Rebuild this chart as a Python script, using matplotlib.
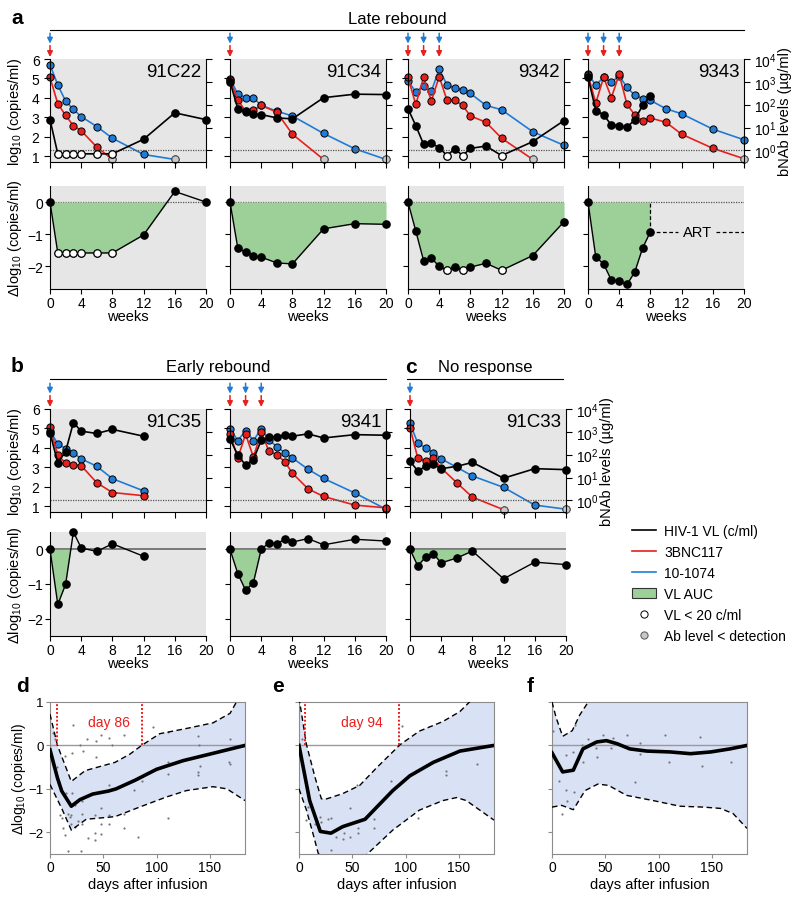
import numpy as np
import matplotlib
matplotlib.use("Agg")
import matplotlib.pyplot as plt
from matplotlib.lines import Line2D
from matplotlib.patches import Patch
from matplotlib.ticker import NullLocator

plt.rcParams['font.family'] = ['Liberation Sans', 'DejaVu Sans']
plt.rcParams['mathtext.fontset'] = 'custom'
plt.rcParams['mathtext.rm'] = 'Liberation Sans'
plt.rcParams['mathtext.it'] = 'Liberation Sans:italic'
plt.rcParams['mathtext.default'] = 'regular'
plt.rcParams['xtick.labelsize'] = 10
plt.rcParams['ytick.labelsize'] = 10

RED = '#e8201c'
BLUE = '#1f7bd6'
GREEN = '#9dcf99'
BG = '#e6e6e6'
GRAYDOT = '#c8c8c8'

# ---------------- data (weeks, log10 VL, bNAb ug/ml, delta log10) ----------------
# 91C22
wk_91C22 = [0, 1, 2, 3, 4, 6, 8, 12, 16, 20]
vl_91C22 = [2.88, 1.12, 1.12, 1.12, 1.12, 1.12, 1.12, 1.87, 3.23, 2.88]
low_91C22 = [1, 2, 3, 4, 6, 8]
rwk_91C22 = [0, 1, 2, 3, 4, 6, 8]
red_91C22 = [1550, 110, 34, 12, 7.2, 1.4, 0.4]
bwk_91C22 = [0, 1, 2, 3, 4, 6, 8, 12, 16]
blue_91C22 = [5600, 720, 145, 62, 30, 11, 3.4, 0.66, 0.4]
dvl_91C22 = [0, -1.58, -1.58, -1.58, -1.58, -1.58, -1.58, -1.02, 0.33, 0]

# 91C34
wk_91C34 = [0, 1, 2, 3, 4, 6, 8, 12, 16, 20]
vl_91C34 = [4.83, 3.44, 3.30, 3.18, 3.14, 2.97, 2.92, 4.01, 4.19, 4.17]
rwk_91C34 = [0, 1, 2, 3, 4, 6, 8, 12]
red_91C34 = [1200, 166, 50, 56, 93, 47, 5.1, 0.4]
bwk_91C34 = [0, 1, 2, 3, 4, 6, 8, 12, 16, 20]
blue_91C34 = [1350, 290, 204, 200, 93, 52, 32, 5.5, 1.17, 0.4]
dvl_91C34 = [0, -1.43, -1.56, -1.68, -1.71, -1.89, -1.92, -0.83, -0.67, -0.69]

# 9342
wk_9342 = [0, 1, 2, 3, 4, 5, 6, 7, 8, 10, 12, 16, 20]
vl_9342 = [3.44, 2.57, 1.61, 1.66, 1.44, 1.03, 1.38, 1.03, 1.40, 1.52, 1.03, 1.75, 2.83]
low_9342 = [5, 7, 12]
rwk_9342 = [0, 1, 2, 3, 4, 5, 6, 7, 8, 10, 12, 16]
red_9342 = [1550, 102, 1580, 145, 1700, 155, 155, 93, 32, 17, 3.4, 0.4]
bwk_9342 = [0, 1, 2, 3, 4, 5, 6, 7, 8, 10, 12, 16, 20]
blue_9342 = [1100, 363, 676, 389, 3630, 724, 550, 436, 309, 93, 60, 6.5, 1.66]
dvl_9342 = [0, -0.90, -1.82, -1.74, -2.0, -2.12, -2.02, -2.12, -2.02, -1.90, -2.12, -1.66, -0.61]

# 9343
wk_9343 = [0, 1, 2, 3, 4, 5, 6, 7, 8]
vl_9343 = [5.06, 3.35, 3.13, 2.60, 2.57, 2.48, 2.88, 3.61, 4.10]
rwk_9343 = [0, 1, 2, 3, 4, 5, 6, 7, 8, 10, 12, 16, 20]
red_9343 = [2000, 117, 1580, 204, 2140, 102, 36, 20, 26, 17, 5.1, 1.23, 0.43]
bwk_9343 = [0, 1, 2, 3, 4, 5, 6, 7, 8, 10, 12, 16, 20]
blue_9343 = [2140, 724, 1580, 955, 1820, 575, 257, 186, 155, 66, 40, 8.5, 2.9]
dvl_9343 = [0, -1.71, -1.92, -2.43, -2.46, -2.56, -2.17, -1.43, -0.92]

# 91C35
wk_91C35 = [0, 1, 2, 3, 4, 6, 8, 12]
vl_91C35 = [4.77, 3.23, 3.81, 5.30, 4.86, 4.74, 4.95, 4.60]
red_91C35 = [1660, 93, 44, 36, 33, 5.9, 2.2, 1.6]
blue_91C35 = [1120, 295, 186, 120, 66, 31, 8.9, 2.6]
dvl_91C35 = [0, -1.59, -1.01, 0.50, 0.04, -0.06, 0.16, -0.20]

# 9341
wk_9341 = [0, 1, 2, 3, 4, 5, 6, 7, 8, 10, 12, 16, 20]
vl_9341 = [4.46, 3.63, 3.11, 3.40, 4.39, 4.56, 4.54, 4.68, 4.60, 4.72, 4.51, 4.68, 4.65]
red_9341 = [830, 71, 794, 78, 977, 141, 100, 50, 15.5, 3.2, 1.48, 0.62, 0.47]
blue_9341 = [1350, 417, 1120, 417, 1350, 447, 224, 123, 72, 23, 9.1, 2.1, 0.41]
dvl_9341 = [0, -0.70, -1.18, -0.96, 0, 0.19, 0.16, 0.29, 0.21, 0.31, 0.13, 0.29, 0.24]

# 91C33
wk_91C33 = [0, 1, 2, 3, 4, 6, 8, 12, 16, 20]
vl_91C33 = [3.32, 2.81, 3.05, 3.16, 2.93, 3.05, 3.25, 2.44, 2.93, 2.88]
rwk_91C33 = [0, 1, 2, 3, 4, 6, 8, 12]
red_91C33 = [1480, 71, 51, 71, 26, 5.9, 1.38, 0.39]
bwk_91C33 = [0, 1, 2, 3, 4, 6, 8, 12, 16, 20]
blue_91C33 = [2340, 316, 200, 123, 66, 28, 11.7, 3.7, 0.62, 0.41]
dvl_91C33 = [0, -0.48, -0.22, -0.13, -0.39, -0.25, -0.05, -0.85, -0.37, -0.44]

# model panels d, e, f (days after infusion, delta log10)
d_mean_x = [0, 7, 11, 20, 28, 40, 55, 62, 80, 100, 125, 150, 183]
d_mean_y = [-0.1, -0.75, -1.05, -1.4, -1.25, -1.12, -1.05, -1.0, -0.8, -0.55, -0.35, -0.2, 0]
d_up_x = [0, 7, 20, 33, 61, 75, 86, 103, 128, 153, 169, 175, 183]
d_up_y = [0.72, 0.0, -0.83, -0.58, -0.39, -0.2, 0, 0.27, 0.39, 0.52, 0.74, 1.0, 1.3]
d_lo_x = [0, 11, 20, 34, 61, 84, 109, 128, 153, 166, 183]
d_lo_y = [-0.9, -1.45, -1.95, -1.70, -1.64, -1.42, -1.19, -1.04, -0.95, -1.0, -1.27]
d_sx = [5, 3, 7, 8, 9, 11, 12.5, 14, 14, 15, 17, 17, 19, 20, 21, 22, 21, 20, 23, 23,
        26, 28, 29, 30, 30, 31, 30, 35, 36, 43, 43, 42, 42, 42, 48, 48, 48, 48, 55, 55,
        55, 55, 58, 69, 69, 69, 79, 83, 86, 97, 111, 111, 111, 111, 139, 140, 139, 139, 141, 169,
        168, 169]
d_sy = [0.14, 0.29, -0.5, -0.85, -1.6, -1.68, -1.9, -2.07, -0.24, -1.1, -1.57, -2.44, -1.64, -1.8, -0.17, 0.48, -1.09, -1.6, -1.38, -1.87,
        -1.73, 0.02, -2.44, -1.8, -1.57, -0.13, -1.27, 0.14, -2.14, -0.27, 0.1, -2.02, -2.17, -1.6, 0.23, -1.43, -2.05, -1.8, 0.16, -0.92,
        -1.6, -1.8, 0.02, 0.25, -1.59, -1.89, -1.02, -2.12, -0.81, 0.42, 0.31, -0.39, -0.66, -1.67, 0.21, 0, -0.61, -0.68, -0.48, 0.14,
        -0.39, -0.43]
d_cut = [7, 86]

e_mean_x = [0, 10, 20, 30, 41, 62, 73, 88, 104, 126, 151, 183]
e_mean_y = [0, -1.27, -1.98, -2.02, -1.87, -1.70, -1.42, -1.04, -0.70, -0.39, -0.13, 0]
e_up_x = [0, 7, 15, 21, 26, 41, 57, 73, 95, 113, 135, 151, 160, 183]
e_up_y = [1.1, 0.02, -0.73, -1.23, -1.23, -1.11, -0.92, -0.51, 0.02, 0.33, 0.55, 0.78, 1.0, 1.6]
e_lo_x = [0, 7, 13, 18, 30, 45, 65, 88, 113, 135, 148, 157, 183]
e_lo_y = [-1.0, -1.49, -2.02, -2.48, -2.9, -2.9, -2.48, -1.95, -1.49, -1.27, -1.2, -1.27, -1.72]
e_sx = [3, 7, 8, 15, 20, 21, 27, 30, 30, 35, 40, 41, 42, 48, 48, 54, 55, 55, 70, 70,
        86, 97, 112, 138, 138, 167]
e_sy = [0.14, -1.72, -1.42, -1.8, -1.64, -1.76, -1.7, -1.67, -2.4, -2.1, -1.87, -2.16, -2.02, -1.43, -2.1, -0.92, -1.91, -2.02, -1.7, -1.89,
        -0.81, 0.44, -1.67, -0.6, -0.67, -0.42]
e_cut = [6, 94]

f_mean_x = [0, 10, 20, 29, 42, 51, 61, 73, 89, 111, 130, 149, 167, 183]
f_mean_y = [-0.17, -0.61, -0.57, -0.08, 0.08, 0.11, 0.04, -0.08, -0.13, -0.15, -0.19, -0.15, -0.08, 0]
f_up_x = [0, 4, 10, 19, 26, 34, 45, 183]
f_up_y = [1.0, 0.63, 0.21, 0.34, 0.70, 1.0, 1.4, 1.5]
f_lo_x = [0, 9, 20, 31, 43, 53, 70, 95, 120, 142, 158, 170, 183]
f_lo_y = [-1.42, -1.38, -1.48, -1.04, -0.89, -0.92, -1.15, -1.27, -1.4, -1.42, -1.45, -1.57, -1.91]
f_sx = [1, 7, 9, 13, 13, 14, 20, 21, 22, 28, 29, 34, 41, 42, 48, 55, 57, 70, 78, 83,
        83, 106, 110, 139, 141, 168]
f_sy = [0.34, -0.81, -1.59, -0.23, -1.02, -1.27, -0.15, -1.08, 0.46, 0.02, -0.39, 0.14, -0.07, -0.27, 0.23, -0.07, 0.16, 0.25, -0.85, 0.06,
        -0.2, 0.23, -0.38, 0.2, -0.47, -0.39]

# ---------------- figure ----------------
FW, FH = 800, 903
fig = plt.figure(figsize=(FW / 100, FH / 100), dpi=100)


def add_ax(x, top, w, h):
    return fig.add_axes([x / FW, 1 - (top + h) / FH, w / FW, h / FH])


MS = 5.2


def nab_line(tw, wks, vals, color, nd=None):
    tw.plot(wks, vals, '-o', color=color, mfc=color, mec='k', ms=MS, mew=0.7, lw=1.2, clip_on=False)
    if nd is not None:
        i = list(wks).index(nd)
        tw.plot(wks[i], vals[i], 'o', mfc=GRAYDOT, mec='#555555', ms=MS, mew=0.7, clip_on=False)


def top_panel(x, top, name, wk, vl, low, rwk, red, rnd, bwk, blue, bnd, doses, show_left, show_right):
    ax = add_ax(x, top, 156, 103)
    tw = ax.twinx()
    ax.set_zorder(tw.get_zorder() + 1)
    ax.patch.set_visible(False)
    tw.patch.set_visible(True)
    tw.patch.set_facecolor(BG)
    for s in ['top', 'right']:
        ax.spines[s].set_visible(False)
    for s in ['top', 'left', 'bottom']:
        tw.spines[s].set_visible(False)

    ax.axhline(1.3, color='#555555', ls=(0, (1, 1)), lw=0.9, zorder=1)
    tw.set_yscale('log')
    tw.set_ylim(10 ** -0.51, 1e4)
    tw.set_yticks([1, 10, 100, 1000, 10000])
    tw.yaxis.set_minor_locator(NullLocator())
    nab_line(tw, bwk, blue, BLUE, bnd)
    nab_line(tw, rwk, red, RED, rnd)

    ax.plot(wk, vl, '-o', color='k', mfc='k', mec='k', ms=MS, lw=1.2, clip_on=False, zorder=3)
    for w in low:
        ax.plot(w, vl[wk.index(w)], 'o', mfc='white', mec='k', ms=MS, mew=0.7, clip_on=False, zorder=4)

    ax.set_xlim(0, 20)
    ax.set_ylim(0.7, 6)
    ax.set_xticks(range(0, 21, 4))
    ax.set_yticks(range(1, 7))
    ax.tick_params(labelbottom=False, labelleft=show_left, direction='out', length=4)
    tw.tick_params(labelright=show_right, direction='out', length=4)
    if show_left:
        ax.set_ylabel('log$_{10}$ (copies/ml)', fontsize=10.5)
        ax.yaxis.set_label_coords(-0.165, 0.5)
    if show_right:
        tw.set_ylabel('bNAb levels (µg/ml)', fontsize=10.5, rotation=90)
        tw.yaxis.set_label_coords(1.215, 0.5)
    ax.text(0.97, 0.96, name, transform=ax.transAxes, ha='right', va='top', fontsize=13.5)

    for w in doses:
        ax.annotate('', xy=(w, 1.02), xycoords=ax.get_xaxis_transform(), xytext=(w, 1.13),
                    arrowprops=dict(arrowstyle='-|>', color=RED, lw=1.1, mutation_scale=8,
                                    shrinkA=0, shrinkB=0), annotation_clip=False)
        ax.annotate('', xy=(w, 1.15), xycoords=ax.get_xaxis_transform(), xytext=(w, 1.25),
                    arrowprops=dict(arrowstyle='-|>', color=BLUE, lw=1.1, mutation_scale=8,
                                    shrinkA=0, shrinkB=0), annotation_clip=False)
    return ax


def delta_panel(x, top, h, wk, dvl, low, auc_end, show_left, dotted_zero, ylo):
    ax = add_ax(x, top, 156, h)
    ax.set_facecolor(BG)
    for s in ['top', 'right']:
        ax.spines[s].set_visible(False)
    if dotted_zero:
        ax.axhline(0, color='#555555', ls=(0, (1, 1)), lw=0.9, zorder=1)
    else:
        ax.axhline(0, color='#666666', lw=1.2, zorder=1)
    w = np.array(wk, dtype=float)
    d = np.array(dvl, dtype=float)
    ax.fill_between(w, d, 0, where=(d < 0) & (w <= auc_end), interpolate=True,
                    color=GREEN, lw=0, zorder=2)
    ax.plot(wk, dvl, '-o', color='k', mfc='k', ms=MS, lw=1.0, clip_on=False, zorder=3)
    for lw_ in low:
        ax.plot(lw_, dvl[wk.index(lw_)], 'o', mfc='white', mec='k', ms=MS, mew=0.7, clip_on=False, zorder=4)
    ax.set_xlim(0, 20)
    ax.set_ylim(ylo, 0.5)
    ax.set_xticks(range(0, 21, 4))
    ax.set_yticks([0, -1, -2])
    ax.tick_params(labelleft=show_left, direction='out', length=3.5, pad=1.5)
    ax.set_xlabel('weeks', fontsize=10.5)
    ax.xaxis.set_label_coords(0.5, -0.19)
    if show_left:
        ax.set_ylabel('Δlog$_{10}$ (copies/ml)', fontsize=10.5)
        ax.yaxis.set_label_coords(-0.165, 0.5)
    return ax


def model_panel(x, mx, my, ux, uy, lx, ly, sx, sy, cut, show_left):
    ax = add_ax(x, 703, 195, 152)
    for s in ax.spines.values():
        s.set_color('#8c8c8c')
    ax.fill(np.r_[ux, lx[::-1]], np.r_[uy, ly[::-1]], color='#d9e1f5', lw=0, zorder=1)
    ax.axhline(0, color='#999999', lw=1.0, zorder=2)
    ax.scatter(sx, sy, s=2.5, color='#777777', zorder=3, lw=0)
    ax.plot(ux, uy, color='k', ls=(0, (4, 2.5)), lw=1.0, zorder=4)
    ax.plot(lx, ly, color='k', ls=(0, (4, 2.5)), lw=1.0, zorder=4)
    ax.plot(mx, my, color='k', lw=2.6, zorder=5)
    if cut is not None:
        ax.vlines(cut, 0, 1, colors='#ee1c1c', linestyles=(0, (1, 1)), lw=1.4, zorder=6)
        ax.text(sum(cut) / 2 + 9, 0.53, 'day %d' % cut[1], color='#ee1c1c', fontsize=10,
                ha='center', va='center')
    ax.set_xlim(0, 183)
    ax.set_ylim(-2.5, 1)
    ax.set_xticks([0, 50, 100, 150])
    ax.set_yticks([1, 0, -1, -2])
    ax.tick_params(labelleft=show_left, direction='out', length=3, color='#8c8c8c', pad=1.5)
    ax.tick_params(axis='y', labelsize=9.5)
    ax.set_xlabel('days after infusion', fontsize=10.5, labelpad=2)
    if show_left:
        ax.set_ylabel('Δlog$_{10}$ (copies/ml)', fontsize=10)
        ax.yaxis.set_label_coords(-0.115, 0.5)
    return ax


# ---- row a ----
cols_a = [50, 230, 408, 588]
top_panel(cols_a[0], 60, '91C22', wk_91C22, vl_91C22, low_91C22, rwk_91C22, red_91C22, 8,
          bwk_91C22, blue_91C22, 16, [0], True, False)
top_panel(cols_a[1], 60, '91C34', wk_91C34, vl_91C34, [], rwk_91C34, red_91C34, 12,
          bwk_91C34, blue_91C34, 20, [0], False, False)
top_panel(cols_a[2], 60, '9342', wk_9342, vl_9342, low_9342, rwk_9342, red_9342, 16,
          bwk_9342, blue_9342, None, [0, 2, 4], False, False)
top_panel(cols_a[3], 60, '9343', wk_9343, vl_9343, [], rwk_9343, red_9343, 20,
          bwk_9343, blue_9343, None, [0, 2, 4], False, True)

delta_panel(cols_a[0], 187, 103, wk_91C22, dvl_91C22, low_91C22, 20, True, True, -2.7)
delta_panel(cols_a[1], 187, 103, wk_91C34, dvl_91C34, [], 20, False, True, -2.7)
delta_panel(cols_a[2], 187, 103, wk_9342, dvl_9342, low_9342, 20, False, True, -2.7)
ax43 = delta_panel(cols_a[3], 187, 103, wk_9343, dvl_9343, [], 8, False, True, -2.7)
# ART marker for 9343
art_w, art_v = wk_9343[-1], dvl_9343[-1]
ax43.plot([art_w, art_w], [art_v, 0], color='k', ls=(0, (3, 2)), lw=0.9, zorder=2)
ax43.plot([art_w, 11.6], [art_v, art_v], color='k', ls=(0, (3, 2)), lw=0.9, zorder=2)
ax43.plot([16.4, 20], [art_v, art_v], color='k', ls=(0, (3, 2)), lw=0.9, zorder=2)
ax43.text(14, art_v, 'ART', ha='center', va='center', fontsize=10.5)

# ---- rows b, c ----
cols_b = [50, 230, 410]
top_panel(cols_b[0], 410, '91C35', wk_91C35, vl_91C35, [], wk_91C35, red_91C35, None,
          wk_91C35, blue_91C35, None, [0], True, False)
top_panel(cols_b[1], 410, '9341', wk_9341, vl_9341, [], wk_9341, red_9341, None,
          wk_9341, blue_9341, None, [0, 2, 4], False, False)
top_panel(cols_b[2], 410, '91C33', wk_91C33, vl_91C33, [], rwk_91C33, red_91C33, 12,
          bwk_91C33, blue_91C33, 20, [0], False, True)

delta_panel(cols_b[0], 533, 104, wk_91C35, dvl_91C35, [], 3, True, False, -2.5)
delta_panel(cols_b[1], 533, 104, wk_9341, dvl_9341, [], 4, False, False, -2.5)
delta_panel(cols_b[2], 533, 104, wk_91C33, dvl_91C33, [], 8, False, False, -2.5)

# ---- rows d, e, f ----
model_panel(50, d_mean_x, d_mean_y, d_up_x, d_up_y, d_lo_x, d_lo_y, d_sx, d_sy, d_cut, True)
model_panel(299, e_mean_x, e_mean_y, e_up_x, e_up_y, e_lo_x, e_lo_y, e_sx, e_sy, e_cut, False)
model_panel(552, f_mean_x, f_mean_y, f_up_x, f_up_y, f_lo_x, f_lo_y, f_sx, f_sy, None, False)

# ---- group headers ----
def header(text, x0, x1, y_text, y_line):
    fig.text((x0 + x1) / 2 / FW, 1 - y_text / FH, text, ha='center', va='center', fontsize=12)
    fig.add_artist(Line2D([x0 / FW, x1 / FW], [1 - y_line / FH] * 2, color='k', lw=0.8))


header('Late rebound', cols_a[0], cols_a[3] + 156, 19, 31)
header('Early rebound', cols_b[0], cols_b[1] + 156, 368, 380)
header('No response', cols_b[2] - 3, cols_b[2] + 153, 368, 380)

for lab, px, py in [('a', 11, 18), ('b', 11, 366), ('c', 405, 368), ('d', 16, 687), ('e', 272, 687), ('f', 527, 687)]:
    fig.text(px / FW, 1 - py / FH, lab, fontsize=15, weight='bold', va='center', ha='left')

# ---- legend ----
handles = [Line2D([], [], color='k', lw=1.2),
           Line2D([], [], color=RED, lw=1.2),
           Line2D([], [], color=BLUE, lw=1.2),
           Patch(facecolor=GREEN, edgecolor='#333333', lw=0.8),
           Line2D([], [], ls='', marker='o', mfc='white', mec='k', ms=MS, mew=0.7),
           Line2D([], [], ls='', marker='o', mfc=GRAYDOT, mec='#555555', ms=MS, mew=0.7)]
labels = ['HIV-1 VL (c/ml)', '3BNC117', '10-1074', 'VL AUC', 'VL < 20 c/ml', 'Ab level < detection']
fig.legend(handles, labels, loc='upper left', bbox_to_anchor=(632 / FW, 1 - 525 / FH),
           frameon=False, fontsize=10, handlelength=1.7, labelspacing=0.5, handletextpad=0.6,
           borderaxespad=0, borderpad=0)

fig.savefig('out.png', dpi=100)
